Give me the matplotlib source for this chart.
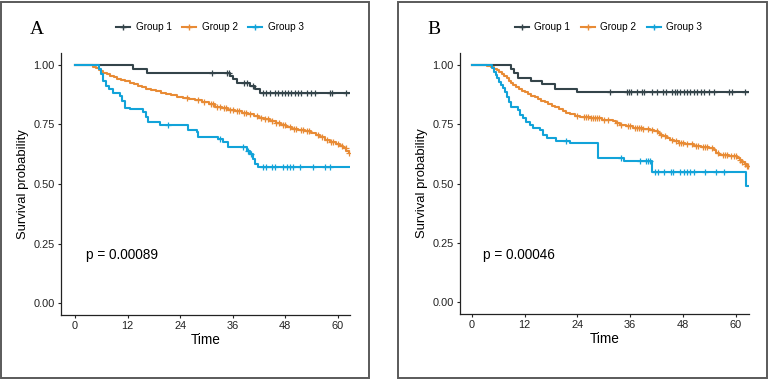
import numpy as np
import matplotlib
matplotlib.use("Agg")
import matplotlib.pyplot as plt
from matplotlib.patches import Rectangle
from matplotlib.lines import Line2D

plt.rcParams['font.family'] = ['Liberation Sans', 'DejaVu Sans']

groups = ['Group 1', 'Group 2', 'Group 3']
colors = ['#34444A', '#E88B35', '#12A3D9']

# ---- panel A ----
a_g1_t = [13.3, 16.5, 35.4, 36.1, 36.9, 39.9, 41.1, 42.2]
a_g1_s = [0.982, 0.967, 0.953, 0.940, 0.926, 0.912, 0.898, 0.884]
a_g1_cens = [31.3, 34.6, 35.1, 38.6, 39.2, 40.7, 43.0, 43.7, 44.5, 45.6, 46.4, 47.2,
             47.9, 48.7, 49.4, 50.2, 50.9, 51.7, 52.9, 54.0, 54.8, 58.2, 58.7, 62.0]
a_g1_end = 62.6

a_g2_t = [4.0, 4.8, 5.5, 6.0, 6.5, 7.2, 8.0, 8.8, 9.6, 10.5, 11.5, 12.5, 13.5, 14.3,
          15.2, 16.2, 17.3, 18.5, 19.6, 20.8, 22.0, 23.3, 24.6, 26.0, 27.4, 29.0,
          30.5, 32.0, 33.5, 35.0, 36.6, 38.2, 39.5, 40.8, 42.0, 43.2, 44.5, 45.8,
          47.0, 48.2, 49.5, 51.0, 52.5, 54.0, 55.0, 56.0, 57.0, 58.2, 59.5, 60.5,
          61.3, 62.0, 62.5]
a_g2_s = [0.993, 0.987, 0.980, 0.974, 0.968, 0.961, 0.954, 0.948, 0.942, 0.938,
          0.933, 0.926, 0.918, 0.912, 0.906, 0.899, 0.894, 0.889, 0.884, 0.878,
          0.872, 0.867, 0.862, 0.858, 0.852, 0.843, 0.837, 0.825, 0.818, 0.812,
          0.806, 0.800, 0.795, 0.787, 0.779, 0.772, 0.764, 0.755, 0.747, 0.739,
          0.733, 0.726, 0.721, 0.714, 0.705, 0.697, 0.686, 0.677, 0.670, 0.660,
          0.650, 0.640, 0.632]
a_g2_cens = [25.5, 28.0, 29.5, 31.0, 31.5, 32.5, 33.0, 34.0, 34.5, 35.5, 36.0, 37.0,
             37.5, 38.5, 39.0, 40.0, 41.5, 42.5, 43.5, 44.0, 45.0, 46.0, 46.5, 47.5,
             48.0, 49.0, 50.0, 50.5, 51.5, 52.0, 53.0, 53.5, 55.5, 56.5, 57.5, 58.5,
             59.0, 60.0, 61.0, 61.8, 62.5]
a_g2_end = 62.6

a_g3_t = [5.5, 6.0, 6.5, 7.0, 7.8, 8.6, 10.3, 10.8, 11.4, 12.5, 15.6, 16.1, 16.6,
          19.4, 25.7, 27.8, 28.2, 32.7, 33.8, 35.0, 39.2, 39.9, 40.7, 41.1, 41.8]
a_g3_s = [0.982, 0.961, 0.933, 0.912, 0.898, 0.884, 0.870, 0.849, 0.821, 0.815,
          0.801, 0.780, 0.759, 0.748, 0.727, 0.717, 0.696, 0.689, 0.675, 0.654,
          0.640, 0.626, 0.605, 0.585, 0.570]
a_g3_cens = [21.3, 33.1, 38.4, 39.5, 40.3, 43.0, 43.7, 44.9, 45.6, 47.5, 48.3, 49.1,
             49.8, 51.3, 54.4, 57.0, 58.2]
a_g3_end = 62.6

# ---- panel B ----
b_g1_t = [9.0, 9.6, 10.4, 13.4, 16.0, 19.0, 24.0]
b_g1_s = [0.982, 0.964, 0.946, 0.932, 0.918, 0.900, 0.884]
b_g1_cens = [31.5, 35.2, 35.7, 36.2, 37.6, 38.7, 39.1, 41.0, 42.1, 43.5, 44.2, 45.5,
             46.1, 46.7, 47.4, 48.2, 48.9, 49.7, 50.5, 51.2, 52.0, 52.7, 53.9, 55.0,
             58.4, 59.2, 62.0]
b_g1_end = 62.8

b_g2_t = [3.5, 4.3, 5.0, 5.6, 6.2, 6.8, 7.3, 7.9, 8.4, 8.9, 9.4, 10.0, 10.6, 11.3,
          12.0, 12.7, 13.5, 14.3, 15.0, 15.8, 16.6, 17.4, 18.2, 19.0, 19.8, 20.7,
          21.5, 22.4, 23.4, 24.5, 27.0, 29.5, 32.0, 32.8, 33.6, 35.0, 36.7, 39.0,
          40.5, 41.5, 42.2, 42.8, 43.5, 44.3, 45.0, 45.9, 47.0, 48.5, 50.5, 52.0,
          54.0, 55.0, 55.5, 56.2, 58.5, 60.2, 60.9, 61.5, 62.0, 62.5]
b_g2_s = [0.995, 0.990, 0.984, 0.977, 0.970, 0.961, 0.952, 0.943, 0.934, 0.925,
          0.915, 0.907, 0.899, 0.891, 0.884, 0.877, 0.870, 0.863, 0.856, 0.849,
          0.842, 0.835, 0.828, 0.821, 0.813, 0.806, 0.799, 0.791, 0.785, 0.779,
          0.775, 0.769, 0.762, 0.755, 0.748, 0.742, 0.735, 0.731, 0.727, 0.720,
          0.713, 0.706, 0.699, 0.692, 0.685, 0.678, 0.672, 0.665, 0.660, 0.655,
          0.650, 0.643, 0.629, 0.622, 0.615, 0.608, 0.601, 0.592, 0.583, 0.575]
b_g2_cens = [24.0, 25.5, 26.0, 26.5, 27.0, 27.5, 28.0, 28.5, 29.0, 30.0, 31.0, 33.0,
             34.0, 35.5, 36.0, 37.0, 37.5, 38.0, 38.5, 39.0, 40.0, 41.0, 42.0, 43.0,
             44.0, 45.5, 46.5, 47.0, 47.5, 48.0, 49.0, 50.0, 51.0, 51.5, 52.5, 53.0,
             53.5, 54.5, 56.0, 57.0, 57.5, 58.0, 59.0, 59.5, 60.0, 61.0, 61.5, 62.0,
             62.5, 62.8]
b_g2_end = 62.9

b_g3_t = [4.6, 5.0, 5.4, 5.8, 6.2, 6.6, 7.0, 7.5, 8.0, 8.5, 8.9, 10.5, 10.9, 11.7,
          12.4, 13.2, 13.9, 15.5, 16.2, 17.0, 19.2, 22.3, 28.7, 34.6, 41.0, 62.4]
b_g3_s = [0.985, 0.971, 0.957, 0.943, 0.929, 0.915, 0.901, 0.887, 0.866, 0.845,
          0.824, 0.810, 0.790, 0.775, 0.761, 0.748, 0.734, 0.727, 0.706, 0.692,
          0.678, 0.671, 0.608, 0.594, 0.549, 0.490]
b_g3_cens = [21.5, 33.8, 38.3, 39.5, 40.0, 40.6, 41.7, 42.3, 43.6, 45.2, 45.8, 47.4,
             48.2, 48.9, 49.7, 50.5, 52.9, 55.4, 57.3]
b_g3_end = 62.8

panels = [
    ('A', 'p = 0.00089',
     [(a_g1_t, a_g1_s, a_g1_cens, a_g1_end),
      (a_g2_t, a_g2_s, a_g2_cens, a_g2_end),
      (a_g3_t, a_g3_s, a_g3_cens, a_g3_end)]),
    ('B', 'p = 0.00046',
     [(b_g1_t, b_g1_s, b_g1_cens, b_g1_end),
      (b_g2_t, b_g2_s, b_g2_cens, b_g2_end),
      (b_g3_t, b_g3_s, b_g3_cens, b_g3_end)]),
]

W, H = 768, 380
fig = plt.figure(figsize=(W / 100, H / 100), dpi=100)

# panel geometry in pixels: (frame x0, frame x1, axes left, axes right, axes top, axes bottom)
geo = [(1, 369, 61, 350, 53, 315), (398, 767, 460, 749, 53, 314)]
xlims = [(-3.2, 62.8), (-2.7, 63.0)]

for (letter, ptxt, curves), (fx0, fx1, al, ar, at, ab), xl in zip(panels, geo, xlims):
    fig.patches.append(Rectangle((fx0 / W, 2 / H), (fx1 - fx0) / W, 376 / H,
                                 transform=fig.transFigure, fill=False,
                                 edgecolor='#5a5a5a', lw=1.4))
    ax = fig.add_axes([al / W, 1 - ab / H, (ar - al) / W, (ab - at) / H])
    for (t, s, cens, end), c in zip(curves, colors):
        tt = np.concatenate([[0.0], t, [end]])
        ss = np.concatenate([[1.0], s, [s[-1]]])
        ax.step(tt, ss, where='post', color=c, lw=1.5)
        idx = np.searchsorted(tt, cens, side='right') - 1
        ax.plot(cens, ss[idx], ls='none', marker='+', ms=4.5, mew=0.9, color=c)
    ax.set_xlim(*xl)
    ax.set_ylim(-0.05, 1.05)
    ax.set_xticks([0, 12, 24, 36, 48, 60])
    ax.set_yticks([0, 0.25, 0.5, 0.75, 1.0])
    ax.set_yticklabels(['0.00', '0.25', '0.50', '0.75', '1.00'])
    for sp in ['top', 'right']:
        ax.spines[sp].set_visible(False)
    for sp in ['left', 'bottom']:
        ax.spines[sp].set_color('#222222')
        ax.spines[sp].set_linewidth(0.9)
    ax.tick_params(labelsize=7.9, colors='#222222', length=2.5, width=0.8, pad=2)
    ax.set_xlabel('Time', fontsize=9.8, labelpad=1)
    ax.set_ylabel('Survival probability', fontsize=9.4, labelpad=3)
    ax.text(2.5, 0.2, ptxt, fontsize=9.8, va='center', ha='left')

    fig.text((fx0 + 29) / W, 1 - 29 / H, letter, family='Liberation Serif',
             fontsize=14, va='center', ha='left')

    handles = [Line2D([], [], color=c, lw=1.5, marker='+', ms=5, mew=1) for c in colors]
    fig.legend(handles, groups, loc='center', ncol=3, frameon=False,
               bbox_to_anchor=((al + ar) / 2 / W + 4 / W, 1 - 27 / H),
               fontsize=7.2, handlelength=1.4, handletextpad=0.6, columnspacing=1.0)

fig.savefig('out.png', dpi=100)
